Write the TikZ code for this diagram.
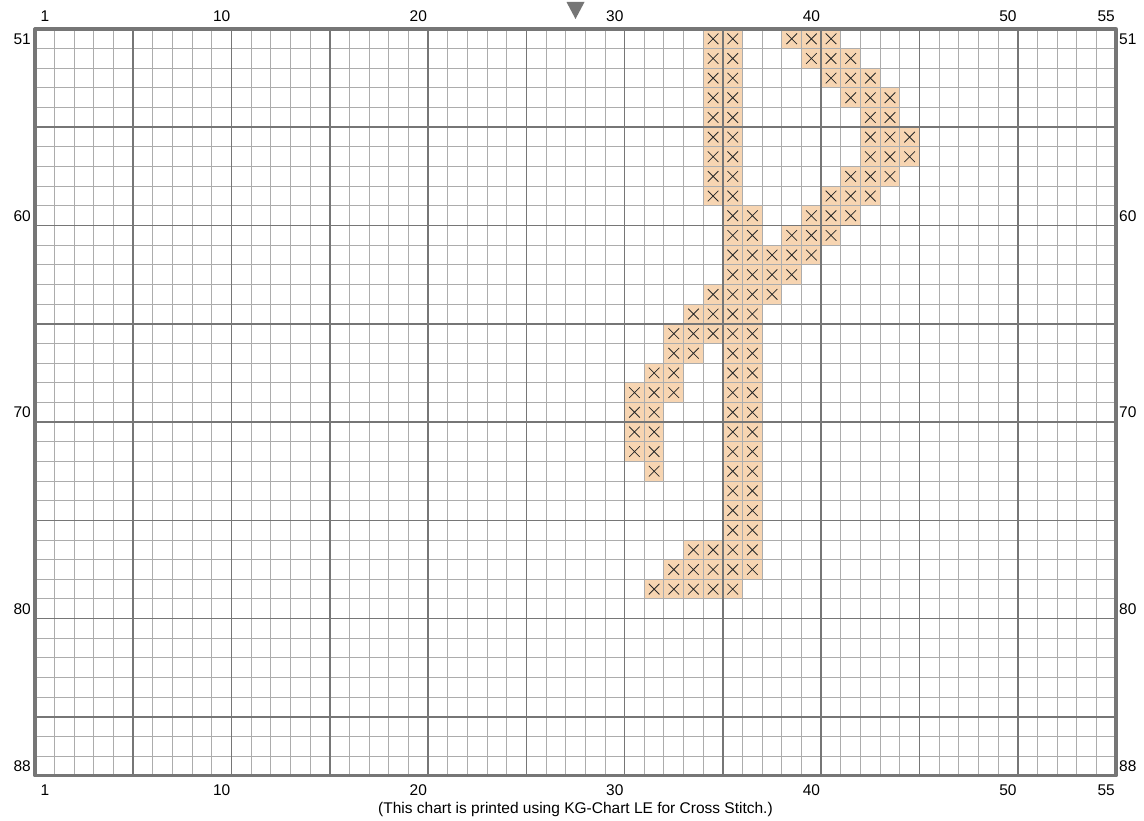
\documentclass[tikz,border=0pt]{standalone}
\usepackage{fontspec}
\setmainfont{Liberation Sans}
\definecolor{stitch}{RGB}{247,213,178}
\definecolor{minorc}{RGB}{172,172,172}
\definecolor{majorc}{RGB}{118,118,118}
\definecolor{xmark}{RGB}{40,40,40}
\begin{document}
\begin{tikzpicture}[x=1pt,y=-1pt,
  lbl/.style={font=\fontsize{15.5}{18}\selectfont, inner sep=0pt, text=black},
  minorline/.style={draw=minorc, line width=1pt},
  majorline/.style={draw=majorc, line width=1.6pt},
  borderline/.style={draw=majorc, line width=3.2pt, line join=round},
  xline/.style={draw=xmark, line width=0.8pt},
  cellfill/.style={fill=stitch}]
\useasboundingbox (0,0) rectangle (1144,821);
\fill[white] (0,0) rectangle (1144,821);
\def\s{19.655}
\begin{scope}[shift={(35,29)}, x=19.655pt, y=-19.655pt]
  % stitched cells
  \foreach \r/\cols in {
    51/{35,36,39,40,41},
    52/{35,36,40,41,42},
    53/{35,36,41,42,43},
    54/{35,36,42,43,44},
    55/{35,36,43,44},
    56/{35,36,43,44,45},
    57/{35,36,43,44,45},
    58/{35,36,42,43,44},
    59/{35,36,41,42,43},
    60/{36,37,40,41,42},
    61/{36,37,39,40,41},
    62/{36,37,38,39,40},
    63/{36,37,38,39},
    64/{35,36,37,38},
    65/{34,35,36,37},
    66/{33,34,35,36,37},
    67/{33,34,36,37},
    68/{32,33,36,37},
    69/{31,32,33,36,37},
    70/{31,32,36,37},
    71/{31,32,36,37},
    72/{31,32,36,37},
    73/{32,36,37},
    74/{36,37},
    75/{36,37},
    76/{36,37},
    77/{34,35,36,37},
    78/{33,34,35,36,37},
    79/{32,33,34,35,36}} {
    \foreach \c in \cols {
      \fill[cellfill] (\c-1,\r-51) rectangle (\c,\r-50);
    }
  }
  % minor grid
  \foreach \i in {0,...,55} { \draw[minorline] (\i,0) -- (\i,38); }
  \foreach \j in {0,...,38} { \draw[minorline] (0,\j) -- (55,\j); }
  % major grid
  \foreach \i in {5,10,...,50} { \draw[majorline] (\i,0) -- (\i,38); }
  \foreach \j in {5,10,...,35} { \draw[majorline] (0,\j) -- (55,\j); }
  % cross marks
  \foreach \r/\cols in {
    51/{35,36,39,40,41},
    52/{35,36,40,41,42},
    53/{35,36,41,42,43},
    54/{35,36,42,43,44},
    55/{35,36,43,44},
    56/{35,36,43,44,45},
    57/{35,36,43,44,45},
    58/{35,36,42,43,44},
    59/{35,36,41,42,43},
    60/{36,37,40,41,42},
    61/{36,37,39,40,41},
    62/{36,37,38,39,40},
    63/{36,37,38,39},
    64/{35,36,37,38},
    65/{34,35,36,37},
    66/{33,34,35,36,37},
    67/{33,34,36,37},
    68/{32,33,36,37},
    69/{31,32,33,36,37},
    70/{31,32,36,37},
    71/{31,32,36,37},
    72/{31,32,36,37},
    73/{32,36,37},
    74/{36,37},
    75/{36,37},
    76/{36,37},
    77/{34,35,36,37},
    78/{33,34,35,36,37},
    79/{32,33,34,35,36}} {
    \foreach \c in \cols {
      \draw[xline] (\c-0.77,\r-50.77) -- (\c-0.23,\r-50.23)
                   (\c-0.77,\r-50.23) -- (\c-0.23,\r-50.77);
    }
  }
  % border
  \draw[borderline] (0,0) rectangle (55,38);
\end{scope}
% centre marker
\fill[majorc] (566.5,2) -- (584.5,2) -- (575.5,19) -- cycle;
% column labels
\foreach \c in {1,10,20,30,40,50,55} {
  \node[lbl, anchor=base] (top\c) at ({35+\s*(\c-0.5)},22) {\c};
  \node[lbl, anchor=base] (bot\c) at ({35+\s*(\c-0.5)},795) {\c};
}
% row labels
\foreach \r in {51,60,70,80,88} {
  \node[lbl, anchor=base east] (left\r) at (31,{29+\s*(\r-50.5)+5.5}) {\r};
  \node[lbl, anchor=base west] (right\r) at (1119,{29+\s*(\r-50.5)+5.5}) {\r};
}
\node[lbl, anchor=base] (note) at (575.5,813) {(This chart is printed using KG-Chart LE for Cross Stitch.)};
\end{tikzpicture}
\end{document}
